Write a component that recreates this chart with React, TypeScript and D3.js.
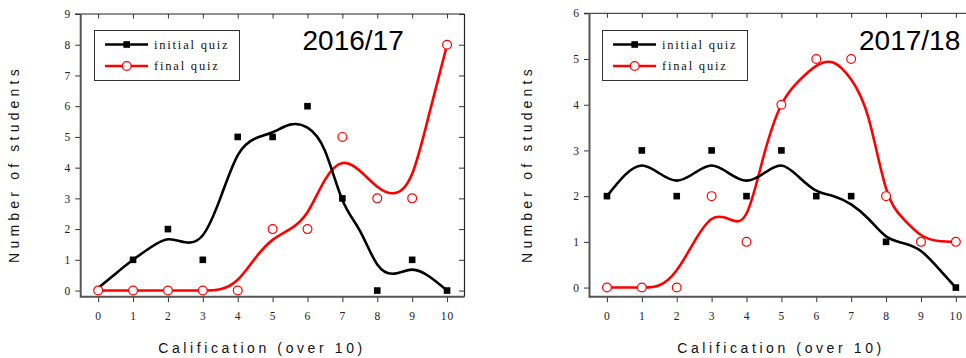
import { useEffect, useRef, FC } from 'react';
import * as d3 from 'd3';

// grades on the x axis
const grades = [0, 1, 2, 3, 4, 5, 6, 7, 8, 9, 10];

// number of students per grade
const initial1617 = [0, 1, 2, 1, 5, 5, 6, 3, 0, 1, 0];
const final1617 = [0, 0, 0, 0, 0, 2, 2, 5, 3, 3, 8];
const initial1718 = [2, 3, 2, 3, 2, 3, 2, 2, 1, 1, 0];
const final1718 = [0, 0, 0, 2, 1, 4, 5, 5, 2, 1, 1];

// smoothed fit curves, every half grade
const fitGrades = [0, 0.5, 1, 1.5, 2, 2.5, 3, 3.5, 4, 4.5, 5, 5.5, 6, 6.5, 7, 7.5, 8, 8.5, 9, 9.5, 10];
const fitInitial1617 = [0.08, 0.55, 1.0, 1.4, 1.67, 1.57, 1.8, 3.0, 4.4, 4.95, 5.15, 5.4, 5.3, 4.55, 2.95, 1.95, 0.85, 0.55, 0.68, 0.45, 0];
const fitFinal1617 = [0, 0, 0, 0, 0, 0, 0, 0.04, 0.35, 1.05, 1.65, 2.0, 2.55, 3.6, 4.15, 3.9, 3.38, 3.17, 3.8, 5.8, 8];
const fitInitial1718 = [2.0, 2.45, 2.67, 2.5, 2.34, 2.5, 2.67, 2.5, 2.34, 2.5, 2.67, 2.42, 2.12, 2.0, 1.82, 1.5, 1.12, 0.97, 0.8, 0.42, 0];
const fitFinal1718 = [0, 0, 0, 0.05, 0.38, 1.0, 1.5, 1.5, 1.62, 2.9, 4.0, 4.52, 4.85, 4.92, 4.55, 3.7, 2.17, 1.5, 1.15, 1.02, 1.0];

const legendLabels = ['initial quiz', 'final quiz'];
const xTitle = 'Calification (over 10)';
const yTitle = 'Number of students';

interface Panel {
  title: string;
  initial: number[];
  final: number[];
  fitInitial: number[];
  fitFinal: number[];
  yMax: number;
  left: number;
  right: number;
  top: number;
  bottom: number;
  titleX: number;
  legendX: number;
  yTitleX: number;
  xTitleX: number;
}

const panels: Panel[] = [
  {
    title: '2016/17',
    initial: initial1617,
    final: final1617,
    fitInitial: fitInitial1617,
    fitFinal: fitFinal1617,
    yMax: 9,
    left: 80.7,
    right: 464.5,
    top: 14,
    bottom: 296.7,
    titleX: 302.5,
    legendX: 94,
    yTitleX: 19,
    xTitleX: 262,
  },
  {
    title: '2017/18',
    initial: initial1718,
    final: final1718,
    fitInitial: fitInitial1718,
    fitFinal: fitFinal1718,
    yMax: 6,
    left: 589.5,
    right: 973.3,
    top: 13.3,
    bottom: 296.7,
    titleX: 859,
    legendX: 602,
    yTitleX: 532,
    xTitleX: 781,
  },
];

const W = 966;
const H = 358;
const serif = '"Liberation Serif", "Times New Roman", serif';
const sans = '"Liberation Sans", Arial, sans-serif';

const Chart: FC = () => {
  const ref = useRef<SVGSVGElement>(null);

  useEffect(() => {
    const svg = d3.select(ref.current).attr('width', W).attr('height', H);
    svg.selectAll('*').remove();

    svg.append('rect').attr('width', W).attr('height', H).attr('fill', '#fff');

    panels.forEach((p) => {
      const x = d3.scaleLinear().domain([-0.5, 10.5]).range([p.left, p.right]);
      const y = d3.scaleLinear().domain([-0.2, p.yMax]).range([p.bottom, p.top]);
      const yTicks = d3.range(0, p.yMax + 1);
      const g = svg.append('g');

      // left axis, ticks outward with labels
      g.append('g')
        .attr('transform', `translate(${p.left},0)`)
        .call(
          d3
            .axisLeft(y)
            .tickValues(yTicks)
            .tickFormat(d3.format('d'))
            .tickSize(5.5)
            .tickSizeOuter(0)
            .tickPadding(5)
        )
        .call((a) => a.select('.domain').remove())
        .call((a) => a.selectAll('.tick line').attr('stroke', '#333'))
        .call((a) =>
          a.selectAll('.tick text').attr('font-family', serif).attr('font-size', 11.5).attr('fill', '#222')
        );

      // bottom axis
      g.append('g')
        .attr('transform', `translate(0,${p.bottom})`)
        .call(
          d3
            .axisBottom(x)
            .tickValues(grades)
            .tickFormat(d3.format('d'))
            .tickSize(5.5)
            .tickSizeOuter(0)
            .tickPadding(10)
        )
        .call((a) => a.select('.domain').remove())
        .call((a) => a.selectAll('.tick line').attr('stroke', '#333'))
        .call((a) =>
          a
            .selectAll('.tick text')
            .attr('font-family', serif)
            .attr('font-size', 11.5)
            .attr('letter-spacing', 1)
            .attr('fill', '#222')
        );

      // top and right inner ticks
      g.append('g')
        .attr('transform', `translate(0,${p.top})`)
        .call(d3.axisTop(x).tickValues(grades).tickSize(-4.5).tickSizeOuter(0).tickFormat(() => ''))
        .call((a) => a.select('.domain').remove())
        .call((a) => a.selectAll('.tick line').attr('stroke', '#333'));
      g.append('g')
        .attr('transform', `translate(${p.right},0)`)
        .call(d3.axisRight(y).tickValues(yTicks).tickSize(-5.5).tickSizeOuter(0).tickFormat(() => ''))
        .call((a) => a.select('.domain').remove())
        .call((a) => a.selectAll('.tick line').attr('stroke', '#333'));

      // frame
      g.append('line')
        .attr('x1', p.left - 5.5).attr('x2', p.right).attr('y1', p.top).attr('y2', p.top)
        .attr('stroke', '#222').attr('stroke-width', 1);
      g.append('line')
        .attr('x1', p.right).attr('x2', p.right).attr('y1', p.top).attr('y2', p.bottom)
        .attr('stroke', '#222').attr('stroke-width', 1.2);
      g.append('line')
        .attr('x1', p.left).attr('x2', p.left).attr('y1', p.top).attr('y2', p.bottom + 1)
        .attr('stroke', '#555').attr('stroke-width', 2);
      g.append('line')
        .attr('x1', p.left).attr('x2', p.right).attr('y1', p.bottom).attr('y2', p.bottom)
        .attr('stroke', '#555').attr('stroke-width', 2);

      // fitted curves
      const line = d3
        .line<number>()
        .x((_d, i) => x(fitGrades[i]))
        .y((d) => y(d))
        .curve(d3.curveNatural);

      g.append('path')
        .attr('d', line(p.fitFinal))
        .attr('fill', 'none')
        .attr('stroke', '#ff0000')
        .attr('stroke-width', 2.6);
      g.append('path')
        .attr('d', line(p.fitInitial))
        .attr('fill', 'none')
        .attr('stroke', '#000')
        .attr('stroke-width', 2.6);

      // markers
      g.append('g')
        .selectAll('rect')
        .data(p.initial)
        .join('rect')
        .attr('x', (_d, i) => x(grades[i]) - 3.3)
        .attr('y', (d) => y(d) - 3.3)
        .attr('width', 6.6)
        .attr('height', 6.6)
        .attr('fill', '#000');
      g.append('g')
        .selectAll('circle')
        .data(p.final)
        .join('circle')
        .attr('cx', (_d, i) => x(grades[i]))
        .attr('cy', (d) => y(d))
        .attr('r', 4.4)
        .attr('fill', '#fff')
        .attr('stroke', '#ff0000')
        .attr('stroke-width', 1.2);

      // legend
      const lg = g.append('g').attr('transform', `translate(${p.legendX},30)`);
      lg.append('rect')
        .attr('x', 0.5).attr('y', 0.5).attr('width', 145).attr('height', 50)
        .attr('fill', '#fff').attr('stroke', '#333').attr('stroke-width', 1);
      legendLabels.forEach((label, i) => {
        const ly = 14.5 + i * 21.5;
        const color = i === 0 ? '#000' : '#ff0000';
        lg.append('line')
          .attr('x1', 11).attr('x2', 54).attr('y1', ly).attr('y2', ly)
          .attr('stroke', color).attr('stroke-width', 2.6);
        if (i === 0) {
          lg.append('rect').attr('x', 32.7 - 3.3).attr('y', ly - 3.3).attr('width', 6.6).attr('height', 6.6).attr('fill', '#000');
        } else {
          lg.append('circle').attr('cx', 32.7).attr('cy', ly).attr('r', 4.4)
            .attr('fill', '#fff').attr('stroke', '#ff0000').attr('stroke-width', 1.2);
        }
        lg.append('text')
          .attr('x', 60).attr('y', ly + 4)
          .attr('font-family', serif).attr('font-size', 12.5).attr('letter-spacing', 1.8)
          .attr('fill', '#111')
          .text(label);
      });

      // panel title
      g.append('text')
        .attr('x', p.titleX).attr('y', 50)
        .attr('font-family', sans).attr('font-size', 28).attr('fill', '#000')
        .text(p.title);

      // axis titles
      g.append('text')
        .attr('transform', `translate(${p.yTitleX},164) rotate(-90)`)
        .attr('text-anchor', 'middle')
        .attr('font-family', sans).attr('font-size', 14).attr('letter-spacing', 4.2)
        .attr('fill', '#111')
        .text(yTitle);
      g.append('text')
        .attr('x', p.xTitleX).attr('y', 353)
        .attr('text-anchor', 'middle')
        .attr('font-family', sans).attr('font-size', 14).attr('letter-spacing', 3.6)
        .attr('fill', '#111')
        .text(xTitle);
    });

    return () => {
      svg.selectAll('*').remove();
    };
  }, []);

  return <svg ref={ref} style={{ position: 'absolute', left: 0, top: 0 }}></svg>;
};

export default function App() {
  return <Chart />;
}
